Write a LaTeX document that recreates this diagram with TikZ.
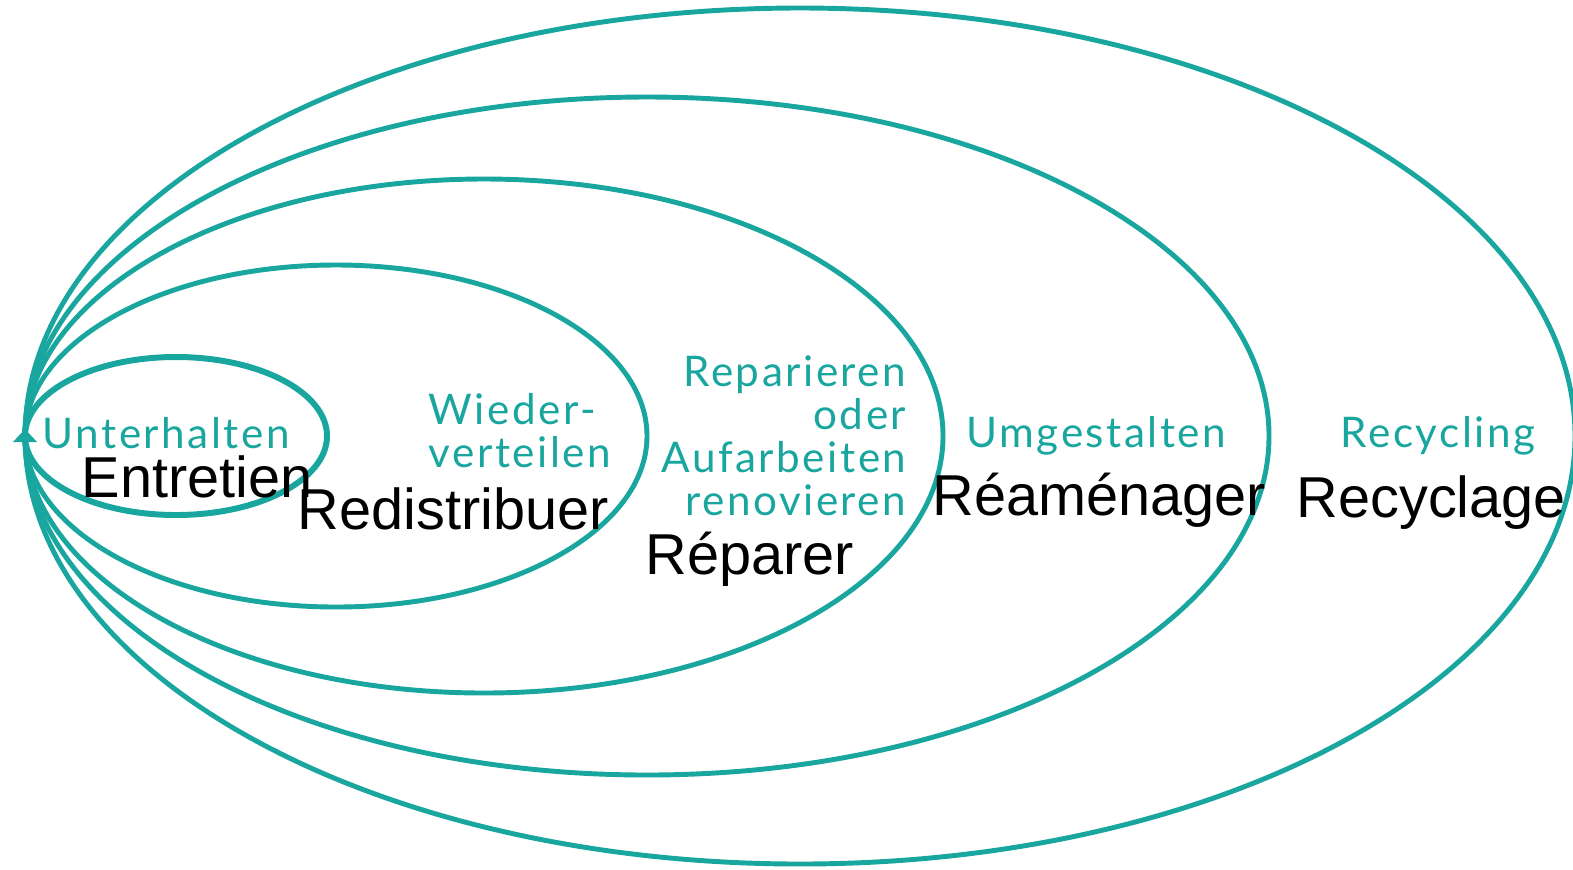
\documentclass[tikz,border=0pt]{standalone}
\usepackage{fontspec}
\setmainfont{Liberation Sans}
\newfontfamily\lato[LetterSpace=6]{Lato}
\definecolor{loopteal}{RGB}{24,166,158}
\tikzset{
  ring/.style={draw=loopteal, line width=1.4pt},
  de label/.style={text=loopteal, font=\lato\fontsize{12}{12.2}\selectfont, inner sep=0pt},
  fr label/.style={text=black, font=\fontsize{16.4}{19}\selectfont, inner sep=0pt}
}
\begin{document}
\begin{tikzpicture}[x=0.01cm,y=-0.01cm]
    \useasboundingbox (0,0) rectangle (1573,869);

    %% nested loops, all touching the start point
    \coordinate (start) at (25,436);
    \foreach \rx/\ry/\lw in {151/79/1.7pt,311/171/1.4pt,459/257/1.4pt,622/339/1.4pt,775/428/1.4pt}
      \draw[ring, line width=\lw] (25+\rx,436) ellipse [x radius=\rx, y radius=\ry];
    \fill[loopteal] (25,429) -- (13,442) -- (37,442) -- cycle;

    %% german labels
    \node[de label, anchor=base west] (unterhalten) at (42,448) {Unterhalten};
    \node[de label, anchor=base west, align=left] (wieder) at (428,467) {Wieder-\\verteilen};
    \node[de label, anchor=base east, align=right] (reparieren) at (907,515) {Reparieren\\oder\\Aufarbeiten\\renovieren};
    \node[de label, anchor=base west] (umgestalten) at (966,447) {Umgestalten};
    \node[de label, anchor=base west] (recycling) at (1340,447) {Recycling};

    %% french labels
    \node[fr label, anchor=base west] (entretien) at (81,497) {Entretien};
    \node[fr label, anchor=base west] (redistribuer) at (297,529) {Redistribuer};
    \node[fr label, anchor=base west] (reparer) at (645,574) {Réparer};
    \node[fr label, anchor=base west] (reamenager) at (932,515) {Réaménager};
    \node[fr label, anchor=base west] (recyclage) at (1296,517) {Recyclage};
\end{tikzpicture}
\end{document}
